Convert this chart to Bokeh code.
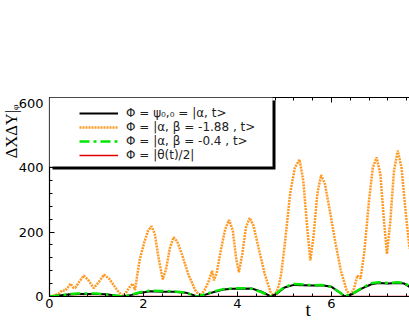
import math
from bokeh.plotting import figure
from bokeh.models import (Range1d, LinearAxis, SingleIntervalTicker, Legend, LegendItem,
                          Title, BoxAnnotation)
from bokeh.embed import file_html
from bokeh.resources import INLINE

# ---- data ----
t_orange = [0, 0.1, 0.2, 0.27, 0.33, 0.4, 0.45, 0.5, 0.55, 0.63, 0.73, 0.82, 0.94, 1.05, 1.16,
            1.27, 1.38, 1.48, 1.55, 1.62, 1.7, 1.77, 1.82, 1.86, 1.92, 2.02, 2.1, 2.17, 2.24,
            2.32, 2.41, 2.48, 2.56, 2.64, 2.72, 2.82, 2.95, 3.1, 3.2, 3.3, 3.38, 3.46, 3.5,
            3.56, 3.64, 3.74, 3.82, 3.9, 3.97, 4.03, 4.1, 4.18, 4.26, 4.34, 4.45, 4.58, 4.7,
            4.77, 4.83, 4.88, 4.93, 5.02, 5.12, 5.22, 5.32, 5.4, 5.48, 5.55, 5.62, 5.7, 5.78,
            5.86, 5.96, 6.08, 6.2, 6.32, 6.40, 6.48, 6.55, 6.62, 6.7, 6.8, 6.88, 6.96, 7.04,
            7.12, 7.18, 7.25, 7.33, 7.41, 7.49, 7.58, 7.66]
y_orange = [0, 3, 10, 19, 18, 30, 40, 28, 27, 45, 65, 52, 26, 45, 68,
            55, 32, 12, 2, 10, 28, 40, 20, 60, 115, 170, 205, 218, 195,
            120, 53, 85, 150, 184, 170, 130, 70, 20, 2, 20, 45, 80, 50,
            75, 140, 210, 238, 205, 120, 75, 130, 215, 244, 220, 150, 70, 15,
            2, 15, 34, 70, 180, 320, 400, 425, 360, 220, 112, 190, 320, 377,
            350, 270, 170, 80, 20, 2, 25, 65, 56, 140, 300, 400, 432, 380,
            230, 132, 230, 390, 453, 400, 260, 149]

t_black = [0, 0.2, 0.4, 0.6, 0.8, 1.0, 1.2, 1.4, 1.57, 1.75, 1.95, 2.15, 2.4, 2.65, 2.9, 3.05,
           3.14, 3.3, 3.5, 3.7, 3.9, 4.1, 4.3, 4.5, 4.71, 4.85, 5.0, 5.2, 5.4, 5.6, 5.8, 6.0,
           6.2, 6.28, 6.45, 6.65, 6.85, 7.0, 7.2, 7.4, 7.55, 7.66]
y_black = [0, 3, 6, 8, 8, 8, 7, 3, 0, 5, 12, 16, 15, 15, 12, 5,
           0, 5, 14, 22, 24, 24, 25, 16, 0, 10, 28, 36, 35, 34, 35, 30,
           10, 0, 8, 25, 38, 42, 40, 42, 40, 30]

t_green = t_black
y_green = [0, 3, 7, 9, 9, 9, 7, 3, 0, 6, 14, 18, 17, 16, 12, 4,
           0, 6, 16, 23, 25, 26, 24, 14, 0, 12, 30, 39, 37, 35, 36, 30,
           10, 0, 9, 27, 41, 44, 42, 44, 42, 32]

t_red = [0, 7.66]
y_red = [0, 0]

x_ticks_interval = 2
y_ticks_interval = 200
labels = ["\u03a6 = \u03c8\u2080,\u2080 = |\u03b1, t>",
          "\u03a6 = |\u03b1, \u03b2 = -1.88 , t>",
          "\u03a6 = |\u03b1, \u03b2 = -0.4 , t>",
          "\u03a6 = |\u03b8(t)/2|"]
y_title = "\u0394X\u0394Y|\u1d69"
x_title = "t"

XMAX = 7.66
YMAX = 618

p = figure(width=409, height=327, output_backend="svg", toolbar_location=None,
           x_range=Range1d(0, XMAX), y_range=Range1d(0, YMAX),
           min_border_left=49, min_border_right=0, min_border_top=97, min_border_bottom=31,
           x_axis_location=None, y_axis_location=None)
p.outline_line_color = None
p.xgrid.visible = False
p.ygrid.visible = False
p.background_fill_color = "white"
p.border_fill_color = "white"

def style_axis(ax, show_labels=True):
    ax.axis_line_color = "black"
    ax.axis_line_width = 1.2
    ax.major_tick_in = 5
    ax.major_tick_out = 0
    ax.minor_tick_in = 3
    ax.minor_tick_out = 0
    ax.major_tick_line_color = "black"
    ax.minor_tick_line_color = "black"
    ax.major_label_text_font = "DejaVu Sans"
    ax.major_label_text_font_size = "13px"
    ax.major_label_text_color = "black"
    if not show_labels:
        ax.major_label_text_font_size = "0px"
        ax.major_label_text_alpha = 0

xt = SingleIntervalTicker(interval=x_ticks_interval, num_minor_ticks=5)
yt = SingleIntervalTicker(interval=y_ticks_interval, num_minor_ticks=5)

xb = LinearAxis(ticker=xt)
style_axis(xb)
xb.major_label_standoff = 2
p.add_layout(xb, "below")

xa = LinearAxis(ticker=SingleIntervalTicker(interval=x_ticks_interval, num_minor_ticks=5))
style_axis(xa, show_labels=False)
p.add_layout(xa, "above")

yl = LinearAxis(ticker=yt)
style_axis(yl)
yl.major_label_standoff = 6
p.add_layout(yl, "left")

# axis titles as side-panel titles
p.add_layout(Title(text=y_title, align="right", offset=7, standoff=-13,
                   vertical_align="middle",
                   text_font="Liberation Serif", text_font_size="16.5px",
                   text_font_style="normal", text_color="black"), "left")
p.add_layout(Title(text=x_title, align="left", offset=256, standoff=-24,
                   vertical_align="top",
                   text_font="Liberation Serif", text_font_size="19px",
                   text_font_style="normal", text_color="black"), "below")

# curves
r_red = p.line(t_red, y_red, line_color="#dd0000", line_width=1.6)
r_orange = p.line(t_orange, y_orange, line_color="#ff9922", line_width=2.5, line_dash="2 1")
r_black = p.line(t_black, y_black, line_color="black", line_width=2)
r_green = p.line(t_green, y_green, line_color="#00e600", line_width=2.5, line_dash="10 4 3 4")

# legend box with shadow
px_x = XMAX / 360.0
px_y = YMAX / 199.0
shadow = BoxAnnotation(left=3 * px_x, right=(272 - 49 + 3) * px_x,
                       top=YMAX - 3 * px_y, bottom=(296 - 166 - 3) * px_y,
                       fill_color="black", fill_alpha=1, line_color=None)
box = BoxAnnotation(left=0, right=(272 - 49) * px_x, top=YMAX, bottom=(296 - 166) * px_y,
                    fill_color="white", fill_alpha=1, line_color="#888888", line_width=1)
p.add_layout(shadow)
p.add_layout(box)

# one legend per row, so each row sits where the reference has it
row_renderers = [r_black, r_orange, r_green, r_red]
row_offsets = [176, 162, 148, 134]
for lab, rr, vy in zip(labels, row_renderers, row_offsets):
    lg = Legend(items=[LegendItem(label=lab, renderers=[rr])], location=(30, vy),
                padding=0, spacing=0, glyph_width=39, glyph_height=14, label_height=14,
                label_standoff=8, label_text_font="DejaVu Sans",
                label_text_font_size="12px", label_text_color="#222222",
                background_fill_alpha=0, border_line_color=None, margin=0)
    p.add_layout(lg, "center")

open("out.html", "w").write(file_html(p, INLINE))
